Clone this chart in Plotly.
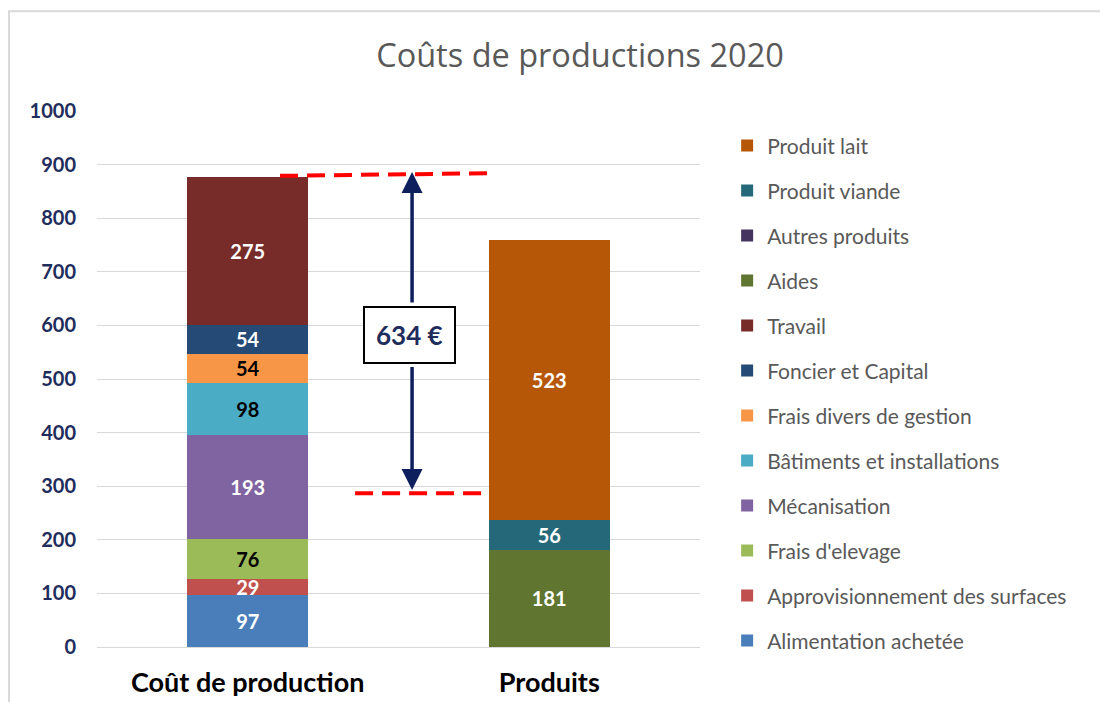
import plotly.graph_objects as go

categories = ["Coût de production", "Produits"]

series_names = [
    "Alimentation achetée", "Approvisionnement des surfaces", "Frais d'elevage",
    "Mécanisation", "Bâtiments et installations", "Frais divers de gestion",
    "Foncier et Capital", "Travail", "Aides", "Autres produits",
    "Produit viande", "Produit lait",
]
cout_values = [97, 29, 76, 193, 98, 54, 54, 275, 0, 0, 0, 0]
produits_values = [0, 0, 0, 0, 0, 0, 0, 0, 181, 0, 56, 523]
colors = [
    "#4a7ebb", "#c0504d", "#9bbb59", "#8064a2", "#4bacc6", "#f79646",
    "#254a75", "#772c2a", "#5f7530", "#45345e", "#256879", "#b65708",
]
label_colors = [
    "white", "white", "black", "white", "black", "black",
    "white", "white", "white", "white", "white", "white",
]

y_ticks = [0, 100, 200, 300, 400, 500, 600, 700, 800, 900, 1000]
gap_label = "634 €"

fig = go.Figure()
n = len(series_names)
for i, (name, cv, pv, col, lc) in enumerate(zip(series_names, cout_values, produits_values, colors, label_colors)):
    vals = [cv, pv]
    texts = [str(v) if v else "" for v in vals]
    fig.add_trace(go.Bar(
        name=name, x=categories, y=vals, marker_color=col, marker_line_width=0,
        text=texts, texttemplate="%{text}", textposition="inside", insidetextanchor="middle",
        textfont=dict(color=lc, size=20, family="Lato", weight="bold"),
        constraintext="none",
        textangle=0, width=0.4, legendgroup=name, legendrank=100 + (n - i),
        cliponaxis=False, hoverinfo="name+y",
    ))

shapes = [
    # chart border
    dict(type="rect", xref="paper", yref="paper", x0=-0.146, x1=1.7, y0=-0.2, y1=1.186,
         line=dict(color="#d9d9d9", width=2), fillcolor="rgba(0,0,0,0)", layer="below"),
    # dashed red lines
    dict(type="line", xref="x", yref="y", x0=0.107, x1=0.803, y0=879, y1=884,
         line=dict(color="#ff0000", width=4, dash="18px,9px")),
    dict(type="line", xref="x", yref="y", x0=0.356, x1=0.803, y0=287, y1=287,
         line=dict(color="#ff0000", width=4, dash="18px,9px")),
]

annotations = [
    dict(x=0.545, y=886, ax=0.545, ay=640, xref="x", yref="y", axref="x", ayref="y",
         text="", showarrow=True, arrowhead=2, arrowsize=1.2, arrowwidth=3.5, arrowcolor="#0d1f5c"),
    dict(x=0.545, y=293, ax=0.545, ay=525, xref="x", yref="y", axref="x", ayref="y",
         text="", showarrow=True, arrowhead=2, arrowsize=1.2, arrowwidth=3.5, arrowcolor="#0d1f5c"),
    dict(x=0.537, y=582, xref="x", yref="y", text="<b>" + gap_label + "</b>", showarrow=False,
         font=dict(size=26, color="#1f2d5c", family="Lato"), bgcolor="white",
         bordercolor="black", borderwidth=2, borderpad=11),
]

fig.update_layout(
    width=1100, height=694,
    margin=dict(l=89, r=408, t=103, b=55, autoexpand=False),
    paper_bgcolor="white", plot_bgcolor="white",
    barmode="stack",
    title=dict(text="Coûts de productions 2020", x=0.52, xanchor="center", y=0.932, yanchor="middle",
               font=dict(size=32.5, color="#595959", family="Open Sans")),
    xaxis=dict(tickfont=dict(size=27, color="black", family="Lato", weight="bold"),
               showline=True, linecolor="#d9d9d9", linewidth=1, ticks="", range=[-0.5, 1.5],
               showgrid=False, ticklabelstandoff=12, automargin=False),
    yaxis=dict(range=[0, 1000], tickvals=y_ticks, ticktext=[str(v) for v in y_ticks],
               tickfont=dict(size=20, color="#1f2d5c", family="Lato", weight="bold"),
               showgrid=True, gridcolor="#d9d9d9", gridwidth=1, zeroline=False, ticks="",
               ticklabelstandoff=20, automargin=False),
    legend=dict(x=1.045, y=0.973, xanchor="left", yanchor="top", traceorder="grouped",
                font=dict(size=21, color="#595959", family="Lato"), tracegroupgap=14.7,
                itemwidth=30, maxheight=680),
    shapes=shapes, annotations=annotations,
    font=dict(family="Lato"),
)

fig.write_html("out.html")
